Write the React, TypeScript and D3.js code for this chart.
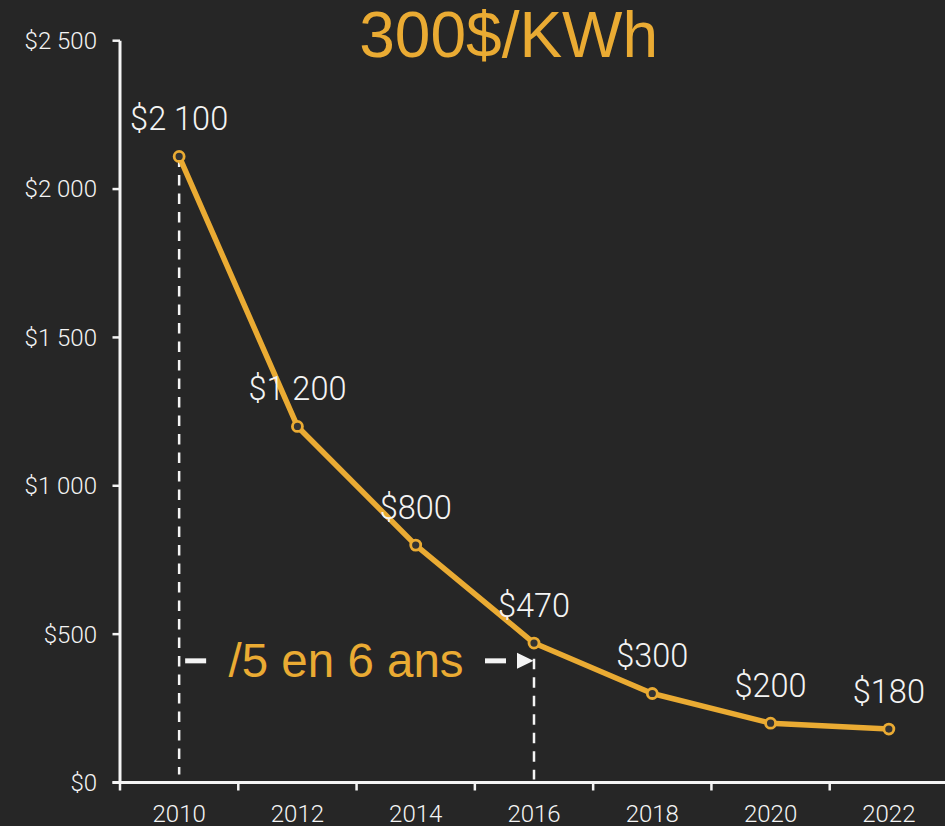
import React from "react";
import * as d3 from "d3";

const years = ["2010", "2012", "2014", "2016", "2018", "2020", "2022"];
const prices = [2110, 1200, 800, 470, 300, 200, 180];
const priceLabels = ["$2 100", "$1 200", "$800", "$470", "$300", "$200", "$180"];
const yTicks = [0, 500, 1000, 1500, 2000, 2500];
const yTickLabels = ["$0", "$500", "$1 000", "$1 500", "$2 000", "$2 500"];
const titleText = "300$/KWh";
const annotationText = "/5 en 6 ans";
const annotationFrom = "2010";
const annotationTo = "2016";

const W = 945;
const H = 826;
const BG = "#262626";
const ORANGE = "#EAAB33";
const WHITE = "#f4f4f4";
const FONT = "'Liberation Sans', Helvetica, Arial, sans-serif";
const LIGHT = "Roboto, 'Liberation Sans', Arial, sans-serif";

export default function App() {
  const x = d3.scaleBand<string>().domain(years).range([120, 948]).padding(0);
  const y = d3.scaleLinear().domain([0, 2500]).range([782.5, 40.7]);
  const cx = (yr: string) => (x(yr) as number) + x.bandwidth() / 2;

  const data = years.map((yr, i) => ({ yr, v: prices[i], label: priceLabels[i] }));
  const line = d3
    .line<{ yr: string; v: number }>()
    .x((d) => cx(d.yr))
    .y((d) => y(d.v));

  const x0 = cx(annotationFrom);
  const x1 = cx(annotationTo);
  const arrowY = y(410);
  const p0 = data.find((d) => d.yr === annotationFrom)!;

  const edges = years.map((yr) => x(yr) as number);

  return (
    <svg
      width={W}
      height={H}
      style={{ position: "absolute", left: 0, top: 0, display: "block" }}
    >
      <rect x={0} y={0} width={W} height={H} fill={BG} />

      <text x={508.7} y={57} textAnchor="middle" fontFamily={FONT} fontSize={64} fill={ORANGE}>
        {titleText}
      </text>

      <g>
        <line x1={120} x2={120} y1={y(2500)} y2={y(0)} stroke={WHITE} strokeWidth={3} />
        {yTicks.map((t, i) => (
          <g key={t} transform={`translate(0,${y(t)})`}>
            <line x1={112.5} x2={120} stroke={WHITE} strokeWidth={2.5} />
            <text
              x={97}
              dy="0.35em"
              textAnchor="end"
              fontFamily={LIGHT}
              fontWeight={300}
              fontSize={24}
              fill={WHITE}
            >
              {yTickLabels[i]}
            </text>
          </g>
        ))}
      </g>

      <g>
        <line x1={112.5} x2={W} y1={y(0)} y2={y(0)} stroke={WHITE} strokeWidth={3} />
        {edges.map((e) => (
          <line key={e} x1={e} x2={e} y1={y(0)} y2={y(0) + 8} stroke={WHITE} strokeWidth={2.5} />
        ))}
        {years.map((yr) => (
          <text
            key={yr}
            x={cx(yr)}
            y={821.5}
            textAnchor="middle"
            fontFamily={LIGHT}
            fontWeight={300}
            fontSize={24}
            fill={WHITE}
          >
            {yr}
          </text>
        ))}
      </g>

      <line
        x1={x0}
        x2={x0}
        y1={y(p0.v)}
        y2={y(0) - 8}
        stroke={WHITE}
        strokeWidth={2.5}
        strokeDasharray="10.5 8"
      />
      <line
        x1={x1}
        x2={x1}
        y1={arrowY - 2}
        y2={y(0) - 3}
        stroke={WHITE}
        strokeWidth={2.5}
        strokeDasharray="10.5 8"
      />

      <line x1={x0 + 6} x2={x0 + 27} y1={arrowY} y2={arrowY} stroke={WHITE} strokeWidth={5} />
      <line x1={x1 - 49} x2={x1 - 28} y1={arrowY} y2={arrowY} stroke={WHITE} strokeWidth={5} />
      <path
        d={`M${x1 - 17},${arrowY - 8} L${x1 - 0.5},${arrowY} L${x1 - 17},${arrowY + 8} Z`}
        fill={WHITE}
      />
      <text
        x={(x0 + x1) / 2 - 10.5}
        y={677}
        textAnchor="middle"
        fontFamily={FONT}
        fontSize={47.5}
        fill={ORANGE}
      >
        {annotationText}
      </text>

      <path d={line(data) || ""} fill="none" stroke={ORANGE} strokeWidth={5.5} strokeLinejoin="round" />
      {data.map((d) => (
        <circle
          key={d.yr}
          cx={cx(d.yr)}
          cy={y(d.v)}
          r={5}
          fill="#333333"
          stroke={ORANGE}
          strokeWidth={2.8}
        />
      ))}
      {data.map((d) => (
        <text
          key={"l" + d.yr}
          x={cx(d.yr)}
          y={y(d.v) - 26}
          textAnchor="middle"
          fontFamily={LIGHT}
          fontWeight={300}
          fontSize={32.5}
          fill={WHITE}
        >
          {d.label}
        </text>
      ))}
    </svg>
  );
}
